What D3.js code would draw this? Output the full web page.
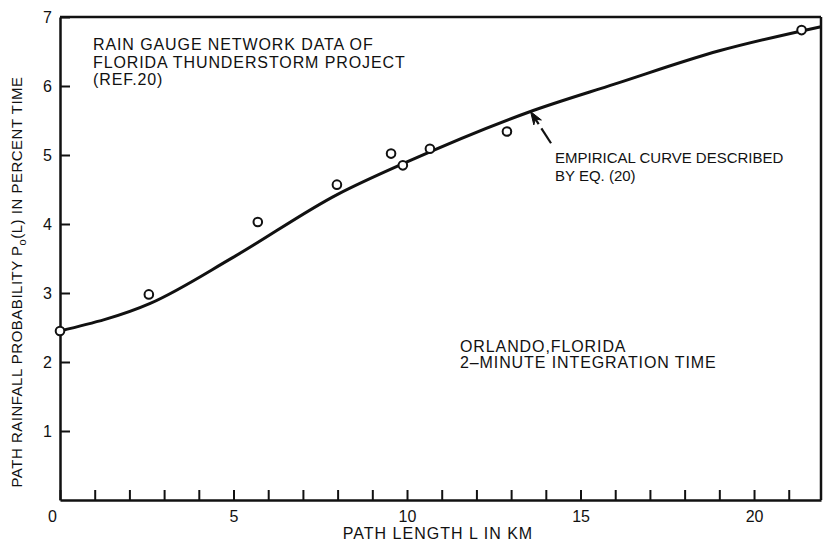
<!DOCTYPE html>
<html>
<head>
<meta charset="utf-8">
<script src="https://cdn.jsdelivr.net/npm/d3@7"></script>
<style>
  html, body { margin: 0; padding: 0; background: #fff; }
  svg { display: block; }
  text { font-family: "Liberation Sans", Arial, Helvetica, sans-serif; fill: #111; }
</style>
</head>
<body>
<svg id="chart" width="823" height="541"></svg>
<script>
// ---- data ----
const obsL = [0, 2.56, 5.70, 7.98, 9.54, 9.88, 10.66, 12.88, 21.37];
const obsP = [2.45, 2.98, 4.03, 4.57, 5.02, 4.85, 5.09, 5.34, 6.81];

const curveL = [0, 2.6, 5.0, 8.0, 10.0, 13.5, 16.0, 19.0, 21.93];
const curveP = [2.45, 2.85, 3.52, 4.43, 4.9, 5.62, 6.03, 6.51, 6.86];

const xTicks = [0,1,2,3,4,5,6,7,8,9,10,11,12,13,14,15,16,17,18,19,20,21];
const xTickLabels = [0, 5, 10, 15, 20];
const yTicks = [1,2,3,4,5,6,7];

const titleLines = ["RAIN GAUGE NETWORK DATA OF", "FLORIDA THUNDERSTORM PROJECT", "(REF.20)"];
const curveNoteLines = ["EMPIRICAL CURVE DESCRIBED", "BY EQ. (20)"];
const siteLines = ["ORLANDO,FLORIDA", "2\u2013MINUTE INTEGRATION TIME"];
const arrowTip = [13.56, 5.63];
const arrowTail = [14.15, 5.17];

// ---- layout ----
const svg = d3.select("#chart");
const x = d3.scaleLinear().domain([0, 21.93]).range([60, 821]);
const y = d3.scaleLinear().domain([0, 7]).range([500, 17]);

const ink = "#111";

// frame (top and right)
svg.append("line").attr("x1", x(0)).attr("x2", x(21.93)).attr("y1", y(7)).attr("y2", y(7))
  .attr("stroke", ink).attr("stroke-width", 2.5);
svg.append("line").attr("x1", x(21.93)).attr("x2", x(21.93)).attr("y1", y(7)).attr("y2", y(0))
  .attr("stroke", ink).attr("stroke-width", 2.5);

// x axis
const xAxis = d3.axisBottom(x).tickValues(xTicks).tickSizeInner(-10).tickSizeOuter(0).tickPadding(11)
  .tickFormat(d => xTickLabels.includes(d) ? d : "");
const gx = svg.append("g").attr("transform", `translate(0,${y(0)})`).call(xAxis);
gx.select(".domain").attr("stroke", ink).attr("stroke-width", 2.5);
gx.selectAll(".tick line").attr("stroke", ink).attr("stroke-width", 2);
gx.selectAll(".tick text").style("font-size", "16px").attr("fill", ink)
  .attr("dx", d => d === 0 ? "-8" : "0");

// y axis
const yAxis = d3.axisLeft(y).tickValues(yTicks).tickSizeInner(-10).tickSizeOuter(0).tickPadding(8)
  .tickFormat(d3.format("d"));
const gy = svg.append("g").attr("transform", `translate(${x(0)},0)`).call(yAxis);
gy.select(".domain").attr("stroke", ink).attr("stroke-width", 2.5);
gy.selectAll(".tick line").attr("stroke", ink).attr("stroke-width", 2);
gy.selectAll(".tick text").style("font-size", "16px").attr("fill", ink);

// axis titles
svg.append("text").attr("x", 438).attr("y", 539).attr("text-anchor", "middle")
  .style("font-size", "16px").style("letter-spacing", "1px").text("PATH LENGTH L IN KM");

const yl = svg.append("text").attr("transform", "translate(22,282) rotate(-90)")
  .attr("text-anchor", "middle").style("font-size", "15px").style("letter-spacing", "0.5px");
yl.append("tspan").text("PATH RAINFALL PROBABILITY P");
yl.append("tspan").attr("dy", 4).style("font-size", "11px").text("o");
yl.append("tspan").attr("dy", -4).text("(L) IN PERCENT TIME");

// curve
const curveData = curveL.map((l, i) => [l, curveP[i]]);
svg.append("path").datum(curveData)
  .attr("d", d3.line().x(d => x(d[0])).y(d => y(d[1])).curve(d3.curveMonotoneX))
  .attr("fill", "none").attr("stroke", ink).attr("stroke-width", 3);

// observations
const obs = obsL.map((l, i) => [l, obsP[i]]);
svg.append("g").selectAll("circle").data(obs).join("circle")
  .attr("cx", d => x(d[0])).attr("cy", d => y(d[1])).attr("r", 4.3)
  .attr("fill", "#fff").attr("stroke", ink).attr("stroke-width", 2);

// text blocks
function block(lines, x0, y0, lh, fs, ls) {
  const t = svg.append("text").style("font-size", fs + "px").style("letter-spacing", ls + "px");
  lines.forEach((s, i) => t.append("tspan").attr("x", x0).attr("y", y0 + i * lh).text(s));
}
block(titleLines, 93, 50, 17.5, 16, 0.9);
block(curveNoteLines, 555, 163, 18, 15, 0);
block(siteLines, 460, 352, 16, 16, 0.9);

// arrow
const tip = [x(arrowTip[0]), y(arrowTip[1])];
const tail = [x(arrowTail[0]), y(arrowTail[1])];
const ang = Math.atan2(tail[1] - tip[1], tail[0] - tip[0]);
const along = (d, off) => [tip[0] + d * Math.cos(ang) - off * Math.sin(ang), tip[1] + d * Math.sin(ang) + off * Math.cos(ang)];
const h1 = along(13, -4.5), h2 = along(13, 4.5), hn = along(9, 0);
svg.append("path").attr("d", `M${tip}L${h1}L${hn}L${h2}Z`).attr("fill", ink).attr("stroke", ink).attr("stroke-width", 1);
const s1 = along(9, 0), s2 = along(15, 0), s3 = along(20, 0);
svg.append("line").attr("x1", s1[0]).attr("y1", s1[1]).attr("x2", s2[0]).attr("y2", s2[1]).attr("stroke", ink).attr("stroke-width", 2.2);
svg.append("line").attr("x1", s3[0]).attr("y1", s3[1]).attr("x2", tail[0]).attr("y2", tail[1]).attr("stroke", ink).attr("stroke-width", 2.2);
</script>
</body>
</html>
